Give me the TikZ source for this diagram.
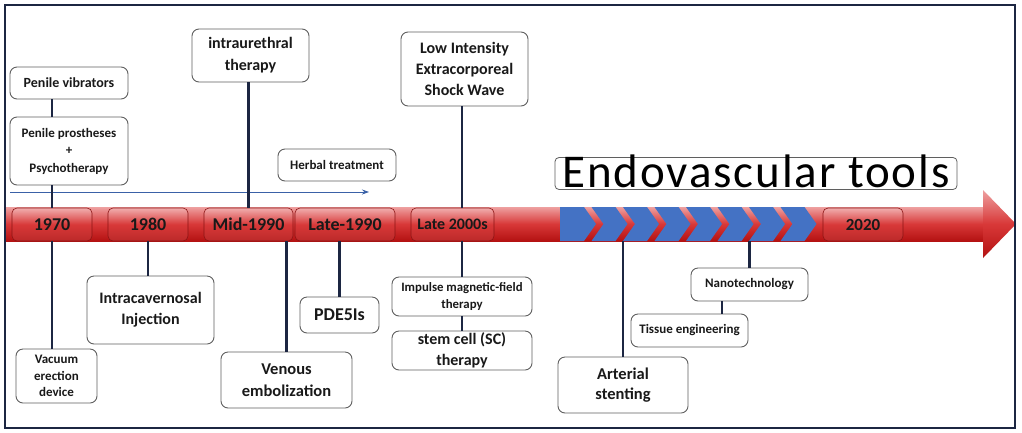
\documentclass[tikz,border=0pt]{standalone}
\usepackage{fontspec}
\setmainfont{Carlito}
\newfontfamily\wideface[LetterSpace=4]{Carlito}
\usepackage{tikz}
\usetikzlibrary{arrows.meta,calc,positioning}

\definecolor{bandtop}{RGB}{238,160,160}
\definecolor{bandmid}{RGB}{216,56,56}
\definecolor{bandbot}{RGB}{180,18,18}
\definecolor{yrline}{RGB}{140,20,20}
\definecolor{chevblue}{RGB}{68,114,196}
\definecolor{navyline}{RGB}{28,38,66}
\definecolor{boxline}{RGB}{95,95,95}
\newcommand\boxfont[2]{\fontsize{#1}{#2}\selectfont\bfseries}

\begin{document}
\begin{tikzpicture}[x=1pt, y=-1pt,
  >={Stealth[length=7pt, width=5pt]},
  link/.style = {navyline, line width=2.3pt},
  box/.style  = {draw=boxline, line width=0.9pt, rounded corners=7pt, fill=white,
                 align=center, inner sep=0pt, text=black!90},
  yr/.style   = {draw=yrline, line width=0.6pt, rounded corners=5pt,
                 top color=bandtop!85!white, bottom color=bandbot!90!white, middle color=bandmid,
                 inner sep=0pt, minimum height=33pt, text=black!90, font=\boxfont{18}{20}},
  chev/.style = {fill=chevblue},
]
\fill[white] (0,0) rectangle (1022,432);
\useasboundingbox (0,0) rectangle (1022,432);

%% ---- time band -----------------------------------------------------------
\shade[top color=bandtop, bottom color=bandbot, middle color=bandmid]
  (5,207) rectangle (985,241);
\shade[top color=bandtop, bottom color=bandbot, middle color=bandmid]
  (983,190) -- (1016,224) -- (983,258) -- cycle;
\fill[chev] (560,207) -- (584,207) -- (596,224) -- (584,241) -- (560,241) -- cycle;
\foreach \i in {1,...,7}
  \fill[chev] ({560+31.5*\i},207) -- ++(24,0) -- ++(12,17) -- ++(-12,17)
    -- ++(-24,0) -- ++(12,-17) -- cycle;
\coordinate (bandS) at (0,241);
\coordinate (hs) at (10,192);
\coordinate (he) at (369,192);
\draw[->, chevblue!85!black, line width=0.8pt] (hs) -- (he);

\node[yr, minimum width=80pt]  (y70)   at (52,224.5)    {1970};
\node[yr, minimum width=80pt]  (y80)   at (148,224.5)   {1980};
\node[yr, minimum width=89pt]  (ymid)  at (248.5,224.5) {Mid-1990};
\node[yr, minimum width=100pt] (ylate) at (345,224.5)   {Late-1990};
\node[yr, minimum width=83pt, font=\boxfont{16}{18}] (y2000) at (452.5,224.5) {Late 2000s};
\node[yr, minimum width=80pt, font=\boxfont{17}{19}] (y2020) at (863,224.5)   {2020};

%% ---- above the band ------------------------------------------------------
\node[box, minimum width=118pt, minimum height=32pt, font=\boxfont{14}{17}] (vib) at (69,83)
  {Penile vibrators};
\node[box, minimum width=118pt, minimum height=68pt, font=\boxfont{13}{17.5}] (pros) at (69,151)
  {Penile prostheses\\+\\Psychotherapy};
\node[box, minimum width=117pt, minimum height=53pt, font=\boxfont{16}{22}] (ure) at (250.5,55.5)
  {intraurethral\\therapy};
\node[box, minimum width=118pt, minimum height=32pt, font=\boxfont{13}{16}] (herb) at (337,165)
  {Herbal treatment};
\node[box, minimum width=127pt, minimum height=74pt, font=\boxfont{16}{21}] (liesw) at (464.5,69)
  {Low Intensity\\Extracorporeal\\Shock Wave};
\node[draw=boxline, line width=0.8pt, rounded corners=4pt, inner sep=0pt, minimum width=402pt,
  text height=30pt, text depth=2pt, font=\wideface\fontsize{47}{50}\selectfont] (endo) at (756,173.5)
  {Endovascular tools};

\draw[link] (pros.north -| y70) -- (vib.south -| y70);
\draw[link] (y70.north) -- (y70.north |- pros.south);
\draw[link] (ymid.north) -- (ymid.north |- ure.south);

%% ---- below the band ------------------------------------------------------
\node[box, minimum width=81pt, minimum height=54pt, font=\boxfont{13}{16.5}] (vac) at (56.5,376)
  {Vacuum\\erection\\device};
\node[box, minimum width=127pt, minimum height=68pt, font=\boxfont{16}{21}] (ici) at (150.5,310)
  {Intracavernosal\\Injection};
\node[box, minimum width=131pt, minimum height=56pt, font=\boxfont{16.5}{21.5}] (ven) at (286.5,380)
  {Venous\\embolization};
\node[box, minimum width=79pt, minimum height=36pt, font=\boxfont{18}{20}] (pde) at (339.5,315)
  {PDE5Is};
\node[box, minimum width=140pt, minimum height=39pt, font=\boxfont{12.8}{17}] (imf) at (462,296.5)
  {Impulse magnetic-field\\therapy};
\node[box, minimum width=140pt, minimum height=39pt, font=\boxfont{16}{20.5}] (stem) at (462,350.5)
  {stem cell (SC)\\therapy};
\node[box, minimum width=130pt, minimum height=56pt, font=\boxfont{16.5}{20}] (art) at (623,385)
  {Arterial\\stenting};
\node[box, minimum width=117pt, minimum height=33pt, font=\boxfont{13}{16}] (nano) at (749.5,284.5)
  {Nanotechnology};
\node[box, minimum width=117pt, minimum height=33pt, font=\boxfont{13}{16}] (tis) at (689.5,330.5)
  {Tissue engineering};

\draw[link] (liesw.south -| imf) -- (y2000.north -| imf);
\draw[link] (y70.south) -- (y70.south |- vac.north);
\draw[link] (y80.south) -- (y80.south |- ici.north);
\draw[link] (ven) -- (ven |- ymid.south);
\draw[link] (pde) -- (pde |- ylate.south);
\draw[link] (imf) -- (imf |- y2000.south);
\draw[link] (imf) -- (stem);
\draw[link] (art) -- (art |- bandS);
\draw[link] (nano) -- (nano |- bandS);
\draw[link] ([xshift=32.5pt]tis.north) -- ([xshift=32.5pt]tis.north |- nano.south);

%% ---- frame ---------------------------------------------------------------
\draw[navyline, line width=1.4pt] (5,5) rectangle (1015,428);

\end{tikzpicture}
\end{document}
